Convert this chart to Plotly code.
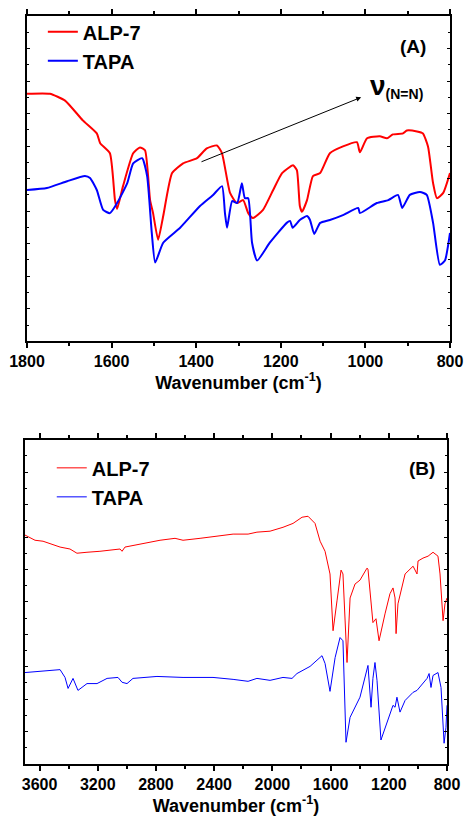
import plotly.graph_objects as go

# ---------------- Panel A data (1800-800 cm-1) ----------------
a_alp_wn = [1800, 1746, 1710, 1668, 1635, 1627, 1604, 1592, 1587, 1573, 1549, 1533, 1521, 1509, 1502,
            1490, 1478, 1457, 1431, 1398, 1375, 1351, 1339, 1320, 1304, 1289, 1277, 1266, 1242, 1218,
            1197, 1171, 1162, 1155, 1150, 1138, 1124, 1107, 1084, 1053, 1020, 1013, 996, 966, 949,
            935, 911, 902, 878, 864, 852, 840, 831, 816, 800]
a_alp_t = [76.1, 76.1, 74.0, 67.9, 63.9, 60.9, 57.8, 43.4, 40.7, 47.7, 57.8, 59.6, 58.7, 43.4, 39.4,
           31.2, 38.5, 51.7, 54.7, 56.3, 59.3, 60.2, 57.8, 45.6, 42.5, 43.4, 39.4, 37.9, 40.4, 46.5,
           51.7, 54.1, 52.6, 41.6, 39.8, 43.4, 50.8, 51.7, 57.8, 59.9, 61.2, 58.1, 62.4, 63.0, 62.4,
           63.6, 63.9, 64.8, 64.5, 63.9, 59.9, 48.6, 44.0, 45.6, 51.7]

a_tapa_wn = [1800, 1753, 1705, 1663, 1651, 1635, 1620, 1604, 1587, 1563, 1549, 1528, 1516, 1505, 1497,
             1478, 1438, 1391, 1360, 1339, 1332, 1327, 1315, 1303, 1292, 1285, 1277, 1268, 1256, 1226,
             1186, 1178, 1172, 1155, 1138, 1131, 1121, 1107, 1084, 1053, 1017, 1013, 973, 946, 923,
             913, 895, 871, 855, 840, 824, 812, 800]
a_tapa_t = [46.5, 47.1, 49.2, 50.8, 50.2, 46.5, 40.4, 39.4, 42.5, 48.6, 54.7, 56.3, 50.8, 33.3, 24.2,
            30.3, 34.9, 41.6, 45.0, 47.7, 39.4, 34.9, 43.1, 42.5, 48.6, 44.0, 44.0, 30.3, 24.8, 30.3,
            36.4, 37.0, 34.9, 37.3, 38.5, 37.3, 33.0, 36.4, 37.3, 38.8, 41.0, 39.4, 42.5, 43.4, 45.0,
            41.0, 45.0, 45.9, 45.0, 36.4, 23.5, 24.8, 33.3]

# ---------------- Panel B data (3700-800 cm-1) ----------------
b_alp_wn = [3700, 3631, 3576, 3459, 3391, 3343, 3274, 3185, 3047, 3033, 3013, 2889, 2772, 2669, 2614,
            2497, 2408, 2270, 2167, 2106, 2016, 1927, 1858, 1796, 1755, 1707, 1672, 1638, 1604, 1583,
            1556, 1528, 1515, 1487, 1466, 1432, 1398, 1350, 1343, 1316, 1309, 1288, 1274, 1267, 1226,
            1192, 1171, 1157, 1150, 1137, 1088, 1033, 1006, 999, 965, 930, 896, 862, 848, 827, 814, 800]
b_alp_t = [70.6, 69.0, 68.7, 66.9, 66.3, 65.0, 65.3, 65.6, 66.3, 65.6, 66.9, 68.1, 69.0, 69.6, 69.0,
           69.6, 70.2, 70.9, 70.9, 71.5, 71.8, 73.0, 74.2, 76.1, 76.4, 74.2, 68.7, 65.6, 58.6, 41.1,
           50.3, 59.8, 58.6, 31.3, 51.2, 55.5, 56.7, 60.4, 60.1, 46.3, 43.6, 44.8, 39.0, 38.0, 46.3,
           52.5, 54.3, 51.2, 40.2, 49.4, 58.6, 61.0, 58.6, 62.6, 63.5, 64.1, 65.3, 64.1, 58.6, 44.2, 49.4, 51.2]

b_tapa_wn = [3700, 3459, 3425, 3404, 3370, 3336, 3274, 3205, 3136, 3061, 3033, 2999, 2958, 2793, 2614,
             2408, 2270, 2167, 2106, 2016, 1927, 1865, 1831, 1741, 1659, 1638, 1604, 1569, 1535, 1515,
             1494, 1466, 1398, 1343, 1322, 1309, 1295, 1281, 1254, 1192, 1171, 1157, 1144, 1123, 1088,
             1033, 1006, 937, 923, 910, 896, 862, 841, 820, 807, 800]
b_tapa_t = [28.2, 29.1, 26.7, 23.3, 26.4, 22.7, 24.8, 24.8, 26.4, 26.7, 25.2, 24.8, 26.4, 27.0, 26.7,
            26.7, 26.1, 25.5, 26.4, 25.8, 26.7, 26.4, 27.9, 30.1, 33.4, 31.0, 22.4, 32.8, 39.0, 38.0,
            6.7, 14.4, 20.6, 30.4, 17.5, 26.4, 31.3, 25.8, 7.4, 15.6, 18.1, 17.5, 20.6, 16.0, 19.6,
            22.1, 22.7, 26.4, 27.9, 23.6, 27.3, 28.2, 23.6, 6.4, 11.3, 18.1]

series_names = ["ALP-7", "TAPA"]
colors = ["#ff0000", "#0000ff"]
x_title = "Wavenumber (cm<sup>-1</sup>)"

FONT = "Liberation Sans, Arial, sans-serif"

fig = go.Figure()
fig.add_trace(go.Scatter(x=a_alp_wn, y=a_alp_t, name=series_names[0], mode="lines",
                         line=dict(color=colors[0], width=2, shape="spline", smoothing=0.5),
                         xaxis="x", yaxis="y", legend="legend"))
fig.add_trace(go.Scatter(x=a_tapa_wn, y=a_tapa_t, name=series_names[1], mode="lines",
                         line=dict(color=colors[1], width=2, shape="spline", smoothing=0.5),
                         xaxis="x", yaxis="y", legend="legend"))
fig.add_trace(go.Scatter(x=b_alp_wn, y=b_alp_t, name=series_names[0], mode="lines",
                         line=dict(color=colors[0], width=1),
                         xaxis="x2", yaxis="y2", legend="legend2"))
fig.add_trace(go.Scatter(x=b_tapa_wn, y=b_tapa_t, name=series_names[1], mode="lines",
                         line=dict(color=colors[1], width=1),
                         xaxis="x2", yaxis="y2", legend="legend2"))

axis_common = dict(showline=True, linecolor="black", linewidth=2, mirror="allticks",
                   showgrid=False, zeroline=False, tickcolor="black", automargin=False)
xtickfont = dict(family=FONT, size=16, color="black", weight="bold")
titlefont = dict(family=FONT, size=18, color="black", weight="bold")

fig.update_layout(
    width=467, height=821,
    margin=dict(l=25, r=17, t=12, b=57),
    paper_bgcolor="white", plot_bgcolor="white",
    showlegend=True,
    xaxis=dict(domain=[2/425, 1], range=[1800, 800], anchor="y", dtick=200, tick0=800,
               ticks="outside", ticklen=5, tickwidth=2, tickfont=xtickfont,
               minor=dict(dtick=100, ticks="outside", ticklen=3, tickwidth=2, tickcolor="black"),
               title=dict(text=x_title, font=titlefont, standoff=0), **axis_common),
    yaxis=dict(domain=[425/752, 1], range=[0, 100], anchor="x", dtick=10, ticks="inside",
               ticklen=3, tickwidth=1, showticklabels=False,
               minor=dict(dtick=5, ticks="inside", ticklen=2, tickcolor="black"), **axis_common),
    xaxis2=dict(domain=[0, 422/425], range=[3700, 800], anchor="y2", dtick=400, tick0=800,
                ticks="outside", ticklen=5, tickwidth=2, tickfont=xtickfont,
                minor=dict(dtick=200, ticks="outside", ticklen=3, tickwidth=2, tickcolor="black"),
                title=dict(text=x_title, font=titlefont, standoff=0), **axis_common),
    yaxis2=dict(domain=[0, 326/752], range=[0, 100], anchor="x2", dtick=10, ticks="inside",
                ticklen=3, tickwidth=1, showticklabels=False,
                minor=dict(dtick=5, ticks="inside", ticklen=2, tickcolor="black"), **axis_common),
    legend=dict(x=0.042, y=1.005, xanchor="left", yanchor="top", bgcolor="rgba(0,0,0,0)",
                font=dict(family=FONT, size=20, color="black", weight="bold"),
                tracegroupgap=0, itemwidth=30),
    legend2=dict(x=0.063, y=0.422, xanchor="left", yanchor="top", bgcolor="rgba(0,0,0,0)",
                 font=dict(family=FONT, size=20, color="black", weight="bold"),
                 tracegroupgap=0, itemwidth=30),
)

fig.add_annotation(text="(A)", xref="paper", yref="paper", x=0.913, y=0.959,
                   xanchor="center", yanchor="middle",
                   showarrow=False, font=dict(family=FONT, size=19, color="black", weight="bold"))
fig.add_annotation(text="(B)", xref="paper", yref="paper", x=0.934, y=0.395,
                   xanchor="center", yanchor="middle",
                   showarrow=False, font=dict(family=FONT, size=19, color="black", weight="bold"))
# arrow pointing to N=N band label
fig.add_annotation(x=1010, y=75, ax=1391, ay=55, xref="x", yref="y", axref="x", ayref="y",
                   text="", showarrow=True, arrowhead=2, arrowsize=1, arrowwidth=1, arrowcolor="black")
fig.add_annotation(text="<span style='font-size:28px'>ν</span><sub>(N=N)</sub>",
                   xref="x", yref="y", x=995, y=78.5, xanchor="left", yanchor="middle",
                   showarrow=False, font=dict(family=FONT, size=20, color="black", weight="bold"))

fig.write_html("out.html")
